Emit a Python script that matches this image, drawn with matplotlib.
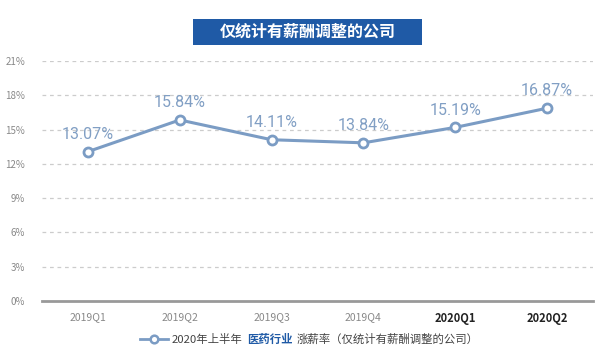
import matplotlib
matplotlib.use("Agg")
import matplotlib.pyplot as plt
from matplotlib.offsetbox import HPacker, TextArea, DrawingArea, AnchoredOffsetbox
from matplotlib.lines import Line2D
from matplotlib.patches import Rectangle

plt.rcParams['font.family'] = ['Noto Sans CJK SC', 'DejaVu Sans']

categories = ["2019Q1", "2019Q2", "2019Q3", "2019Q4", "2020Q1", "2020Q2"]
values = [13.07, 15.84, 14.11, 13.84, 15.19, 16.87]
yticks = [0, 3, 6, 9, 12, 15, 18, 21]
title = "仅统计有薪酬调整的公司"

line_color = "#7b9cc4"
label_color = "#819fc4"
dark_blue = "#1f5aa6"

fig = plt.figure(figsize=(6.1, 3.6), dpi=100)
ax = fig.add_axes([42/610, 1-301/360, 551/610, 240/360])

x = list(range(len(categories)))
ax.plot(x, values, color=line_color, lw=2.2, marker='o', ms=6.5,
        mfc='white', mec=line_color, mew=2, zorder=3, clip_on=False)
for xi, v in zip(x, values):
    ax.annotate(f"{v:.2f}%", (xi, v), xytext=(0, 7), textcoords='offset points',
                ha='center', va='bottom', fontsize=11.5, color=label_color,
                family=['Roboto', 'DejaVu Sans'])

ax.set_xlim(-0.5, len(categories) - 0.5)
ax.set_ylim(0, 21)
ax.set_yticks(yticks)
ax.set_yticklabels([f"{t}%" for t in yticks], fontsize=7, color='#888888')
ax.set_xticks(x)
ax.set_xticklabels(categories, fontsize=7.5)
for lbl in ax.get_xticklabels():
    if lbl.get_text().startswith("2020"):
        lbl.set_color('#222222')
        lbl.set_fontweight('bold')
        lbl.set_fontsize(8)
    else:
        lbl.set_color('#888888')
ax.tick_params(axis='both', length=0, pad=8)
ax.tick_params(axis='y', pad=12)
for s in ['top', 'right', 'left']:
    ax.spines[s].set_visible(False)
ax.spines['bottom'].set_color('#999999')
ax.spines['bottom'].set_linewidth(2)
ax.yaxis.grid(True, linestyle=(0, (3, 3)), color='#cccccc', lw=0.9)
ax.set_axisbelow(True)
for gl in ax.yaxis.get_gridlines()[:1]:
    gl.set_visible(False)

# Title box
fig.patches.append(Rectangle((193/610, 1-45/360), 229/610, 26/360,
                             transform=fig.transFigure, fc=dark_blue, ec='none', zorder=0))
fig.text(307.5/610, 1-32/360, title, ha='center', va='center', fontsize=11.5,
         fontweight='bold', color='white')

# Legend
da = DrawingArea(20, 10, 0, 0)
da.add_artist(Line2D([0, 20], [5, 5], color=line_color, lw=2))
da.add_artist(Line2D([10], [5], marker='o', ms=5.5, mfc='white', mec=line_color, mew=1.8))
fs = 8.2
t1 = TextArea("2020年上半年", textprops=dict(fontsize=fs, color='#444444'))
t2 = TextArea("医药行业", textprops=dict(fontsize=fs, color=dark_blue, fontweight='bold'))
t3 = TextArea("涨薪率（仅统计有薪酬调整的公司）", textprops=dict(fontsize=fs, color='#444444'))
box = HPacker(children=[da, t1, t2, t3], align='center', pad=0, sep=3)
anch = AnchoredOffsetbox(loc='center left', child=box, frameon=False,
                         bbox_to_anchor=(140/610, 1-339/360),
                         bbox_transform=fig.transFigure, borderpad=0, pad=0)
fig.add_artist(anch)

fig.savefig("out.png", dpi=100)
